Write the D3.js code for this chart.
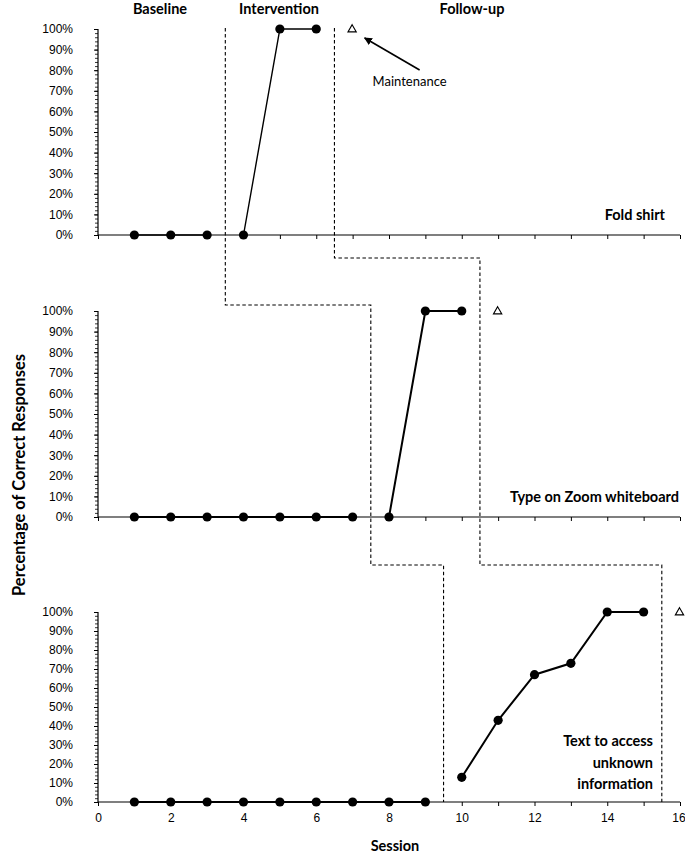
<!DOCTYPE html>
<html><head><meta charset="utf-8">
<script src="https://cdn.jsdelivr.net/npm/d3@7"></script>
<style>body{margin:0;background:#fff}svg{display:block}</style>
</head><body>
<script>
// ---- data ----
const phaseLabels = ["Baseline", "Intervention", "Follow-up"];
const panelLabels = [["Fold shirt"], ["Type on Zoom whiteboard"], ["Text to access", "unknown", "information"]];
const xTicks = [0, 2, 4, 6, 8, 10, 12, 14, 16];
const yTicks = [0, 10, 20, 30, 40, 50, 60, 70, 80, 90, 100];

const foldBaselineX = [1, 2, 3], foldBaselineY = [0, 0, 0];
const foldInterventionX = [4, 5, 6], foldInterventionY = [0, 100, 100];
const foldMaintenanceX = [7], foldMaintenanceY = [100];

const zoomBaselineX = [1, 2, 3, 4, 5, 6, 7], zoomBaselineY = [0, 0, 0, 0, 0, 0, 0];
const zoomInterventionX = [8, 9, 10], zoomInterventionY = [0, 100, 100];
const zoomMaintenanceX = [11], zoomMaintenanceY = [100];

const textBaselineX = [1, 2, 3, 4, 5, 6, 7, 8, 9], textBaselineY = [0, 0, 0, 0, 0, 0, 0, 0, 0];
const textInterventionX = [10, 11, 12, 13, 14, 15], textInterventionY = [13, 43, 67, 73, 100, 100];
const textMaintenanceX = [16], textMaintenanceY = [100];

// phase-change positions per panel (session boundaries)
const interventionStart = [3.5, 7.5, 9.5];
const followupStart = [6.5, 10.5, 15.5];

// ---- layout ----
const W = 685, H = 854;
const svg = d3.select("body").append("svg").attr("width", W).attr("height", H)
  .style("font-family", "'Liberation Sans', Arial, sans-serif");
const labelFont = "Lato, 'Open Sans', sans-serif";

const x = d3.scaleLinear().domain([0, 16]).range([98, 680]);
const panels = [
  { y: d3.scaleLinear().domain([0, 100]).range([235, 29]), lw: 1.4,
    base: [foldBaselineX, foldBaselineY], inter: [foldInterventionX, foldInterventionY], maint: [foldMaintenanceX, foldMaintenanceY] },
  { y: d3.scaleLinear().domain([0, 100]).range([517, 311]), lw: 2,
    base: [zoomBaselineX, zoomBaselineY], inter: [zoomInterventionX, zoomInterventionY], maint: [zoomMaintenanceX, zoomMaintenanceY] },
  { y: d3.scaleLinear().domain([0, 100]).range([802, 612]), lw: 2,
    base: [textBaselineX, textBaselineY], inter: [textInterventionX, textInterventionY], maint: [textMaintenanceX, textMaintenanceY] }
];

const minorY = d3.range(0, 101, 2);

panels.forEach((p, i) => {
  const g = svg.append("g");
  // y axis
  const ya = g.append("g").attr("transform", `translate(${x(0)},0)`)
    .call(d3.axisLeft(p.y).tickValues(yTicks).tickFormat(d => d + "%").tickSize(4).tickPadding(21));
  ya.selectAll("text").style("font-size", "12px").style("fill", "#000");
  ya.selectAll("line, path").attr("stroke", "#000");
  ya.select(".domain").attr("d", `M0,${p.y(100)}V${p.y(0)}`).attr("stroke-width", 1.2);
  g.append("g").attr("transform", `translate(${x(0)},0)`)
    .call(d3.axisLeft(p.y).tickValues(minorY).tickFormat("").tickSize(3))
    .call(s => s.select(".domain").remove())
    .selectAll("line").attr("stroke", "#000").attr("stroke-width", 0.8);
  // x axis
  const xa = g.append("g").attr("transform", `translate(0,${p.y(0)})`);
  xa.call(d3.axisBottom(x).tickValues(d3.range(0, 17, 1)).tickFormat("").tickSize(4));
  if (i === 2) {
    const xl = g.append("g").attr("transform", `translate(0,${p.y(0)})`)
      .call(d3.axisBottom(x).tickValues(xTicks).tickSize(0).tickPadding(11));
    xl.select(".domain").remove();
    xl.selectAll("text").style("font-size", "12px").style("fill", "#000")
      .attr("dx", d => d === 16 ? -1.5 : 0);
  }
  xa.selectAll("line, path").attr("stroke", "#000");
  xa.select(".domain").attr("d", `M${x(0)},0H${x(16)}`).attr("stroke-width", 1.2);

  const line = d3.line().x(d => x(d[0])).y(d => p.y(d[1]));
  [p.base, p.inter].forEach(s => {
    const pts = s[0].map((v, k) => [v, s[1][k]]);
    g.append("path").attr("d", line(pts)).attr("fill", "none").attr("stroke", "#000").attr("stroke-width", p.lw);
    g.selectAll(null).data(pts).enter().append("circle")
      .attr("cx", d => x(d[0])).attr("cy", d => p.y(d[1])).attr("r", 4.6).attr("fill", "#000");
  });
  const mpts = p.maint[0].map((v, k) => [v, p.maint[1][k]]);
  g.selectAll(null).data(mpts).enter().append("path")
    .attr("d", d3.symbol().type(d3.symbolTriangle).size(30))
    .attr("transform", d => `translate(${x(d[0]) - 0.5},${p.y(d[1]) + 0.5})`)
    .attr("fill", "#fff").attr("stroke", "#000").attr("stroke-width", 1.1);

  // panel label
  const lines = panelLabels[i];
  const lt = g.append("text").attr("text-anchor", "end")
    .style("font-family", labelFont).style("font-weight", "bold").style("font-size", "14.5px");
  if (i === 0) lt.attr("x", 665).attr("y", 220).text(lines[0]);
  else if (i === 1) lt.attr("x", 679).attr("y", 502).text(lines[0]);
  else lines.forEach((t, k) => lt.append("tspan").attr("x", 653).attr("y", 746 + k * 21.5).text(t));
});

// phase change lines
const gapY1 = [305, 565], gapY2 = [258, 565];
function phasePath(bounds, gaps) {
  const top = panels[0].y(100) - 1;
  let d = `M${x(bounds[0])},${top}`;
  d += `V${gaps[0]}H${x(bounds[1])}V${gaps[1]}H${x(bounds[2])}V${panels[2].y(0)}`;
  return d;
}
[[interventionStart, gapY1], [followupStart, gapY2]].forEach(([b, gp]) => {
  svg.append("path").attr("d", phasePath(b, gp)).attr("fill", "none")
    .attr("stroke", "#000").attr("stroke-width", 1.1).attr("stroke-dasharray", "3.5,2.5");
});

// phase headers
const hx = [160, 279, 472], hy = [14, 14, 13.5];
svg.selectAll(null).data(phaseLabels).enter().append("text")
  .attr("x", (d, k) => hx[k]).attr("y", (d, k) => hy[k]).attr("text-anchor", "middle")
  .style("font-family", labelFont).style("font-weight", "bold").style("font-size", "14.5px")
  .text(d => d);

// maintenance annotation
const mx = x(foldMaintenanceX[0]), my = panels[0].y(foldMaintenanceY[0]);
svg.append("defs").append("marker").attr("id", "ah").attr("viewBox", "0 0 10 10")
  .attr("refX", 9).attr("refY", 5).attr("markerWidth", 5).attr("markerHeight", 5).attr("orient", "auto")
  .append("path").attr("d", "M0,0L10,5L0,10z").attr("fill", "#000");
svg.append("line").attr("x1", mx + 67).attr("y1", my + 41).attr("x2", mx + 12).attr("y2", my + 9)
  .attr("stroke", "#000").attr("stroke-width", 1.6).attr("marker-end", "url(#ah)");
svg.append("text").attr("x", mx + 57).attr("y", my + 57).attr("text-anchor", "middle")
  .style("font-family", labelFont).style("font-size", "13px").text("Maintenance");

// axis titles
svg.append("text").attr("x", 395).attr("y", 851).attr("text-anchor", "middle")
  .style("font-family", labelFont).style("font-weight", "bold").style("font-size", "14.5px").text("Session");
svg.append("text").attr("transform", "translate(25,475) rotate(-90)").attr("text-anchor", "middle")
  .style("font-family", labelFont).style("font-weight", "bold").style("font-size", "16.5px")
  .text("Percentage of Correct Responses");
</script>
</body></html>
